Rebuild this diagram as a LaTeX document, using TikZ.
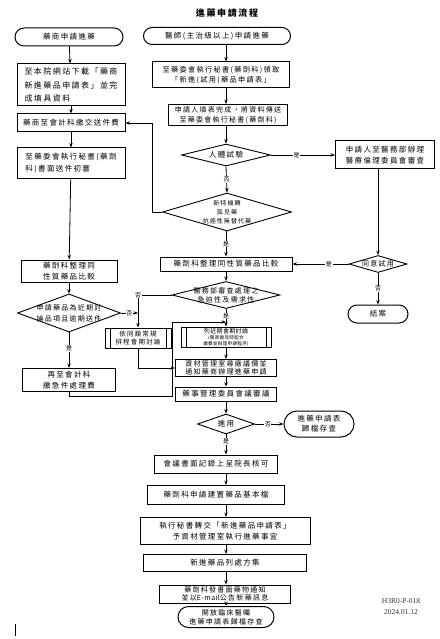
\documentclass[tikz,border=0pt]{standalone}
\usepackage{fontspec}
\setmainfont{Liberation Serif}
\newfontfamily\cjk[LetterSpace=18]{Noto Sans CJK TC}
\newfontfamily\cjkt[LetterSpace=6]{Noto Sans CJK TC}
\usetikzlibrary{shapes.geometric,shapes.misc,arrows.meta}
\begin{document}
\begin{tikzpicture}[x=1pt,y=-1pt,
 ln/.style={line width=0.8pt},
 arr/.style={ln,-{Stealth[length=4.5pt,width=3.4pt]}},
 txt/.style={font=\cjk\fontsize{7.5}{9.5}\selectfont},
 box/.style={draw,line width=1pt,rectangle,inner sep=1pt,align=center,txt},
 term/.style={draw,line width=1pt,rounded rectangle,inner sep=1pt,align=center,txt},
 dia/.style={draw,line width=0.9pt,diamond,inner sep=0pt},
 dtext/.style={align=center,inner sep=0pt,txt},
 sub/.style={box,path picture={
   \draw[line width=0.8pt] ([xshift=5pt]path picture bounding box.north west) -- ([xshift=5pt]path picture bounding box.south west);
   \draw[line width=0.8pt] ([xshift=-5pt]path picture bounding box.north east) -- ([xshift=-5pt]path picture bounding box.south east);}},
 lbl/.style={fill=white,inner sep=0.6pt,font=\cjkt\fontsize{6}{6}\selectfont}]
\useasboundingbox[fill=white] (0,0) rectangle (439,639);

% title
\node[font=\cjk\bfseries\fontsize{9}{9}\selectfont] (title) at (227,13) {進藥申請流程};

% left column
\node[term,minimum width=110pt,minimum height=18pt] (L1) at (69,37) {藥商申請進藥};
\node[box,minimum width=108pt,minimum height=42pt,align=left,font=\cjk\fontsize{8}{13.5}\selectfont] (L2) at (71,85) {至本院網站下載「藥商\\新進藥品申請表」並完\\成填具資料};
\node[box,minimum width=108pt,minimum height=18pt] (L3) at (71,123) {藥商至會計科繳交送件費};
\node[box,minimum width=108pt,minimum height=30pt,align=left,font=\cjk\fontsize{7.5}{12}\selectfont] (L4) at (71,163) {至藥委會執行秘書(藥劑\\科)書面送件初審};
\node[box,minimum width=96pt,minimum height=22pt,font=\cjk\fontsize{7.5}{11}\selectfont] (L5) at (69,271) {藥劑科整理同\\性質藥品比較};
\node[dia,minimum width=103pt,minimum height=38pt,
  label={[dtext,font=\cjk\fontsize{7}{11}\selectfont]center:{申請藥品為近期討\\論品項且逾期送件}}] (L6) at (69,313) {};
\node[box,minimum width=93pt,minimum height=23pt,font=\cjk\fontsize{7.5}{11}\selectfont] (L7) at (69,380) {再至會計科\\繳急件處理費};

% middle column
\node[term,minimum width=149pt,minimum height=17pt] (M1) at (217,36) {醫師(主治級以上)申請進藥};
\node[box,minimum width=137pt,minimum height=26pt,font=\cjk\fontsize{7.2}{10}\selectfont] (M2) at (221,75) {至藥委會執行秘書(藥劑科)領取\\「新進(試用)藥品申請表」};
\node[box,minimum width=119pt,minimum height=21pt,font=\cjk\fontsize{7}{9.5}\selectfont] (M3) at (228,115) {申請人填表完成，將資料傳送\\至藥委會執行秘書(藥劑科)};
\node[dia,minimum width=89pt,minimum height=22pt,label={[dtext]center:{人體試驗}}] (M4) at (226,155) {};
\node[dia,minimum width=129pt,minimum height=38pt,
  label={[dtext,font=\cjk\fontsize{6}{9}\selectfont]center:{新特機轉\\孤兒藥\\抗癌性無替代藥}}] (M5) at (227,212) {};
\node[box,minimum width=132pt,minimum height=14pt] (M6) at (226,264) {藥劑科整理同性質藥品比較};
\node[dia,minimum width=108pt,minimum height=27pt,
  label={[dtext,font=\cjk\fontsize{7}{9}\selectfont]center:{醫務部審查處理之\\急迫性及需求性}}] (M7) at (226,295) {};
\node[sub,minimum width=66pt,minimum height=20pt,font=\cjk\fontsize{6.5}{8.5}\selectfont] (S1) at (138,338) {依同類常規\\排程會期討論};
\node[sub,minimum width=90pt,minimum height=20pt,inner sep=0pt,font=\cjkt\fontsize{6}{6}\selectfont] (S2) at (226,337) {列近期會期討論\\{\fontsize{4.6}{5.5}\selectfont(藥商需及時配合}\\{\fontsize{4.6}{5.5}\selectfont 繳費並辦理申請程序)}};
\node[box,minimum width=101pt,minimum height=17pt,inner sep=0.5pt,font=\cjk\fontsize{7}{8}\selectfont] (M8) at (226,368) {資材管理室尋廠議價並\\通知藥商辦理進藥申請};
\node[box,minimum width=101pt,minimum height=14pt] (M9) at (226,394) {藥事管理委員會議審議};
\node[dia,minimum width=57pt,minimum height=20pt,label={[dtext]center:{進用}}] (M10) at (226,424) {};
\node[term,minimum width=72pt,minimum height=26pt,font=\cjk\fontsize{7.5}{10}\selectfont] (R3) at (319,424) {進藥申請表\\歸檔存查};
\node[box,minimum width=123pt,minimum height=18pt] (M11) at (216,464) {會議書面記錄上呈院長核可};
\node[box,minimum width=137pt,minimum height=19pt] (M12) at (216,495) {藥劑科申請建置藥品基本檔};
\node[box,minimum width=170pt,minimum height=27pt,font=\cjk\fontsize{7.5}{11}\selectfont] (M13) at (225,531) {執行秘書轉交「新進藥品申請表」\\予資材管理室執行進藥事宜};
\node[box,minimum width=163pt,minimum height=17pt] (M14) at (225,563) {新進藥品列處方集};
\node[box,minimum width=131pt,minimum height=18pt,inner sep=0.5pt,font=\cjk\fontsize{7}{8.5}\selectfont] (M15) at (225,594) {藥劑科發書面藥物通知\\並以{\cjkt E-mail}公告新藥訊息};
\node[term,minimum width=97pt,minimum height=21pt,inner sep=0.5pt,font=\cjk\fontsize{7}{9}\selectfont] (M16) at (226,617) {開放臨床醫囑\\進藥申請表歸檔存查};

% right column
\node[box,minimum width=99pt,minimum height=28pt,font=\cjk\fontsize{7.5}{11}\selectfont] (R1) at (385,155) {申請人至醫務部辦理\\醫療倫理委員會審查};
\node[dia,minimum width=58pt,minimum height=17pt,label={[dtext,font=\cjk\fontsize{7}{8}\selectfont]center:{同意試用}}] (R2) at (378,264) {};
\node[term,minimum width=62pt,minimum height=18pt] (R4) at (378,314) {結案};

% footer
\node[align=center,font=\fontsize{7.5}{11}\selectfont,text=black!80] (foot) at (401,607) {H3R0-P-018\\2024.01.12};
\draw[line width=1pt] (15,624) -- (15,636);

% coordinates
\coordinate (k1) at (152,212);
\coordinate (k2) at (172,396);
\coordinate (k3) at (172,322);

% left connectors
\draw[arr] (L1) -- (L2);
\draw[arr] (L2) -- (L3);
\draw[arr] (L3) -- (L4);
\draw[arr] (L4) -- (L5);
\draw[arr] (L5) -- (L6);
\draw[arr] (L6.south) -- node[lbl,pos=0.45]{是} (L7.north);
\draw[arr] (L6.east) -- node[lbl,pos=0.5]{否} (L6.east -| S1.north);
\draw[arr] (L7.south) |- (k2) -- (k3) -- (k3 -| M7.south);

% middle connectors
\draw[arr] (M1.south -| M4) -- (M2.north -| M4);
\draw[arr] (M2.south -| M4) -- (M3.north -| M4);
\draw[arr] (M3.south -| M4) -- (M4.north);
\draw[arr] (M4.south) -- node[lbl]{否} (M5.north);
\draw[arr] (M5.west) -- (k1) |- (L3.east);
\draw[arr] (M5.south -| M6) -- node[lbl]{是} (M6.north);
\draw[arr] (M6) -- (M7);
\draw[arr] (M7.west) -- (M7.west -| S1.north) node[lbl]{否} -- (S1.north);
\draw[arr] (S1.south) |- (M8.west);
\draw[arr] (M7.south) -- node[lbl,pos=0.4]{是} (S2.north);
\draw[arr] (S2) -- (M8);
\draw[arr] (M8) -- (M9);
\draw[arr] (M9) -- (M10);
\draw[arr] (M10.east) -- node[lbl,pos=0.45]{否} (R3.west);
\draw[arr] (M10.south) -- node[lbl,pos=0.35]{是} (M11.north -| M10);
\draw[arr] (M11.south -| M10) -- (M12.north -| M10);
\draw[arr] (M12.south -| M10) -- (M13.north -| M10);
\draw[arr] (M13.south -| M10) -- (M14.north -| M10);
\draw[arr] (M14.south -| M10) -- (M15.north -| M10);
\draw[arr] (M15.south -| M10) -- (M16.north -| M10);

% right connectors
\draw[arr] (M4.east) -- node[lbl,pos=0.4]{是} (M4.east -| R1.west);
\draw[arr] (R1.south -| R2) -- (R2.north);
\draw[arr] (R2.west) -- node[lbl,pos=0.35]{是} (R2.west -| M6.east);
\draw[arr] (R2.south) -- node[lbl]{否} (R4.north);
\end{tikzpicture}
\end{document}
